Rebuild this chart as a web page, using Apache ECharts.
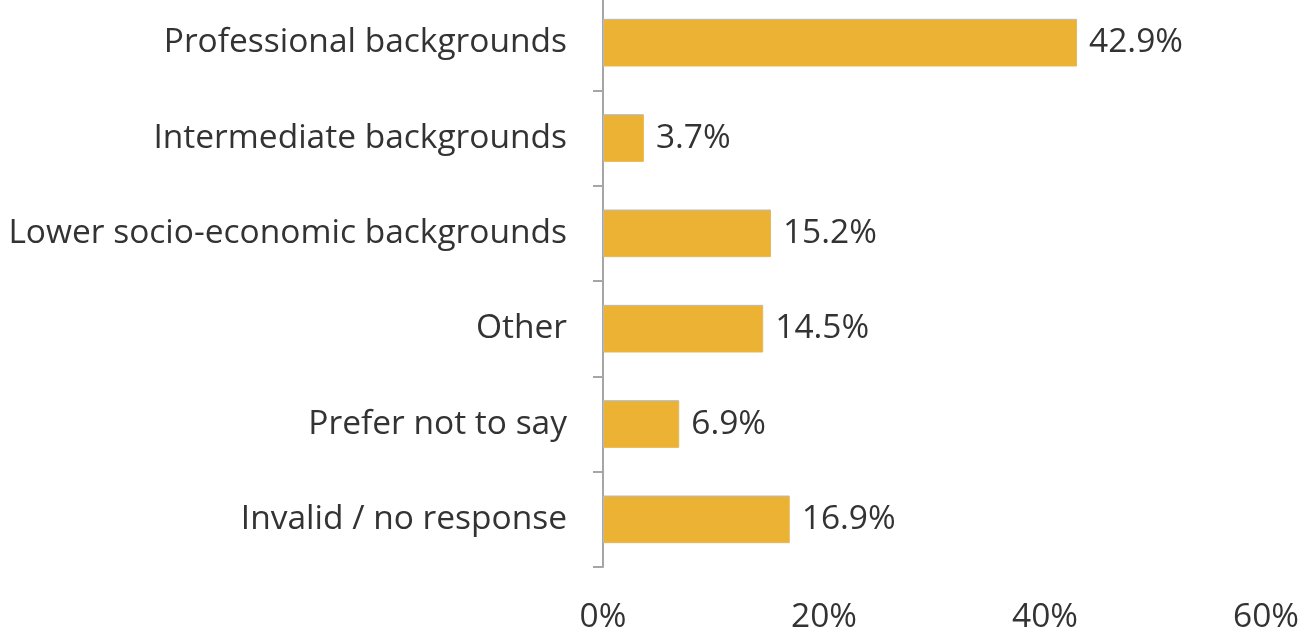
<!DOCTYPE html>
<html>
<head>
<meta charset="utf-8">
<script src="https://cdn.jsdelivr.net/npm/echarts@6/dist/echarts.min.js"></script>
<style>
  html, body { margin: 0; padding: 0; background: #fff; overflow: hidden; }
  /* plot starts a little above the page edge, like the cropped original */
  #chart { width: 1308px; height: 639px; margin-top: -5px; }
</style>
</head>
<body>
<div id="chart"></div>
<script>
const categories = [
    'Professional backgrounds',
    'Intermediate backgrounds',
    'Lower socio-economic backgrounds',
    'Other',
    'Prefer not to say',
    'Invalid / no response'
];
const shares = [42.9, 3.7, 15.2, 14.5, 6.9, 16.9];
const xTicks = [0, 20, 40, 60];

const barColor = '#ebb234';
const axisColor = '#a6a6a6';
const textColor = '#333333';
const fontName = '"Open Sans", "Noto Sans", sans-serif';

const chart = echarts.init(document.getElementById('chart'));

chart.setOption({
    animation: false,
    grid: {
        left: 603,
        right: 42,
        top: 0,
        bottom: 66
    },
    xAxis: {
        type: 'value',
        min: xTicks[0],
        max: xTicks[xTicks.length - 1],
        interval: xTicks[1] - xTicks[0],
        axisLine: { show: false },
        axisTick: { show: false },
        splitLine: { show: false },
        axisLabel: {
            margin: 33,
            color: textColor,
            fontFamily: fontName,
            fontSize: 33.5,
            formatter: function(v) { return v + '%'; }
        }
    },
    yAxis: {
        type: 'category',
        inverse: true,
        data: categories,
        axisLine: { show: true, lineStyle: { color: axisColor, width: 2 } },
        axisTick: { show: true, length: 10, lineStyle: { color: axisColor, width: 2 } },
        axisLabel: {
            margin: 36,
            color: textColor,
            fontFamily: fontName,
            fontSize: 33.5
        }
    },
    series: [{
        type: 'bar',
        data: shares,
        barCategoryGap: '50%',
        itemStyle: {
            color: barColor,
            borderColor: '#cdb98e',
            borderWidth: 1
        },
        label: {
            show: true,
            position: 'right',
            distance: 12,
            color: textColor,
            fontFamily: fontName,
            fontSize: 33.5,
            formatter: function(p) { return p.value.toFixed(1) + '%'; }
        }
    }]
});
</script>
</body>
</html>
